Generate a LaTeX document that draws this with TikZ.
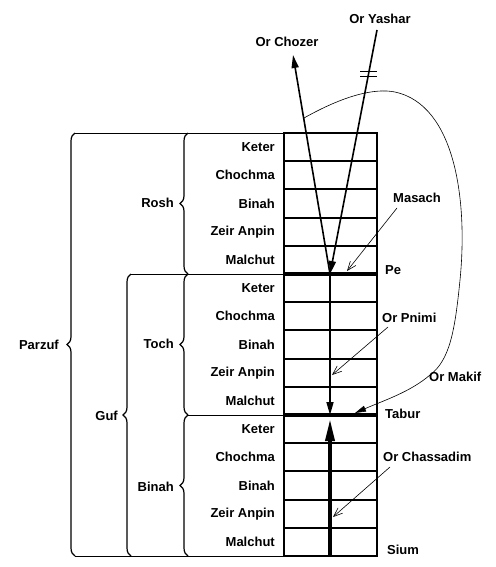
\documentclass[tikz,border=0pt]{standalone}
\usepackage{fontspec}
\setmainfont{Liberation Sans}
\usetikzlibrary{arrows.meta, decorations.pathreplacing}

\tikzset{
  lbl/.style={font=\fontsize{13}{15}\selectfont\bfseries, inner sep=1pt},
  grp/.style={decorate, decoration={brace, amplitude=8pt}, line width=1.2pt},
  ptr/.style={-{Straight Barb[length=9pt,width=7pt]}, line width=0.6pt},
  ray/.style={line width=1.6pt},
  head/.style={-{Triangle[length=13pt,width=7pt]}},
}

\begin{document}
\begin{tikzpicture}[x=1pt, y=-1pt]
  \useasboundingbox (0,0) rectangle (495,567);
  % Column of fifteen cells
  \draw[line width=1.6pt] (284,133) rectangle (377,556);
  \foreach \k in {1,2,3,4,6,7,8,9,11,12,13,14}
    \draw[line width=2pt] (284,{133+28.2*\k}) -- (377,{133+28.2*\k});
  \draw[line width=4pt] (284,274) -- (377,274);
  \draw[line width=4pt] (284,415) -- (377,415);
  % Cell names
  \foreach \s in {0,1,2}
    \foreach \name [count=\i] in {Keter,Chochma,Binah,Zeir Anpin,Malchut}
      \node[lbl, anchor=east] (s\s r\i) at (276,{133+28.2*(5*\s+\i-0.5)}) {\name};
  % Brace ends and column edge
  \coordinate (colTop) at (284,133);
  \coordinate (colPe) at (284,274);
  \coordinate (colTabur) at (284,415);
  \coordinate (colBot) at (284,556);
  \coordinate (parzufTop) at (75,133);
  \coordinate (parzufBot) at (75,556);
  \coordinate (gufTop) at (131,274);
  \coordinate (gufBot) at (131,556);
  \coordinate (roshTop) at (188,133);
  \coordinate (roshBot) at (188,274);
  \coordinate (tochBot) at (188,415);
  \coordinate (binahBot) at (188,556);
  % Guide lines
  \draw (parzufTop) -- (colTop);
  \draw (gufTop) -- (colPe);
  \draw (tochBot) -- (colTabur);
  \draw (parzufBot) -- (colBot);
  % Braces
  \draw[grp] (parzufBot) -- (parzufTop);
  \draw[grp] (gufBot) -- (gufTop);
  \draw[grp] (roshBot) -- (roshTop);
  \draw[grp] (tochBot) -- (roshBot);
  \draw[grp] (binahBot) -- (tochBot);
  \node[lbl, anchor=east] (parzuf) at (60,345) {Parzuf};
  \node[lbl, anchor=east] (guf) at (119,416) {Guf};
  \node[lbl, anchor=east] (rosh) at (175,203) {Rosh};
  \node[lbl, anchor=east] (toch) at (175,344) {Toch};
  \node[lbl, anchor=east] (binah) at (175,487) {Binah};
  % Labels on the right
  \node[lbl, anchor=west] (pe) at (384,270) {Pe};
  \node[lbl, anchor=west] (tabur) at (384,414) {Tabur};
  \node[lbl, anchor=west] (sium) at (386,550) {Sium};
  \node[lbl, anchor=west] (masach) at (392,198) {Masach};
  \node[lbl, anchor=west] (pnimi) at (381,318) {Or Pnimi};
  \node[lbl, anchor=west] (makif) at (428,377) {Or Makif};
  \node[lbl, anchor=west] (chassadim) at (382,457) {Or Chassadim};
  \node[lbl] (yashar) at (380,19) {Or Yashar};
  \node[lbl] (chozer) at (287,42) {Or Chozer};
  % Ray points
  \coordinate (yasharFrom) at (377,30);
  \coordinate (chozerTip) at (293,55);
  \coordinate (peMid) at (330,274);
  \coordinate (taburMid) at (330,415);
  \coordinate (taburUp) at (330,419);
  \coordinate (siumMid) at (330,556);
  % Direct and returning light
  \draw[ray, head] (yasharFrom) -- (peMid);
  \draw[ray, head] (peMid) -- (chozerTip);
  \draw[line width=1pt] (360,72) -- (377,72) (360,77) -- (377,77);
  % Inner light and light of mercy
  \draw[ray, head] (peMid) -- (taburMid);
  \draw[line width=3.5pt, -{Triangle[length=22pt,width=9pt]}] (siumMid) -- (taburUp);
  % Pointers
  \coordinate (masachFrom) at (397,208);
  \coordinate (masachTo) at (347,271);
  \coordinate (pnimiFrom) at (388,327);
  \coordinate (pnimiTo) at (332,375);
  \coordinate (chassadimFrom) at (390,467);
  \coordinate (chassadimTo) at (333,517);
  \draw[ptr] (masachFrom) -- (masachTo);
  \draw[ptr] (pnimiFrom) -- (pnimiTo);
  \draw[ptr] (chassadimFrom) -- (chassadimTo);
  % Surrounding light
  \coordinate (makifFrom) at (304,118);
  \coordinate (makifTo) at (355,413);
  \draw[line width=0.6pt, -{Triangle[length=11pt,width=6pt]}] (makifFrom)
    .. controls (345,95) and (375,88) .. (395,92)
    .. controls (455,105) and (468,200) .. (460,280)
    .. controls (455,330) and (450,360) .. (430,375)
    .. controls (410,392) and (385,400) .. (makifTo);
\end{tikzpicture}
\end{document}
